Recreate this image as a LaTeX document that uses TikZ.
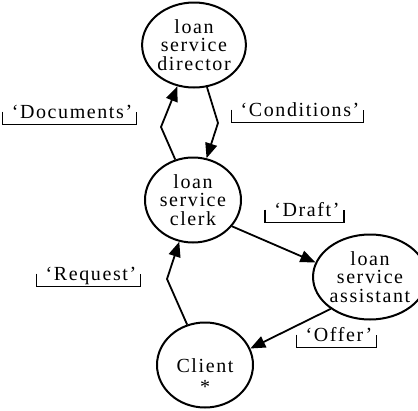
\documentclass[tikz,border=0pt]{standalone}
\usepackage{fontspec}
\setmainfont{Liberation Serif}[LetterSpace=8]
\usetikzlibrary{shapes.geometric}
\usetikzlibrary{arrows.meta}

% underline bracket under a message label
\newcommand{\msgbracket}[1]{%
  \draw[bracket] ([shift={(-9pt,6.5pt)}]#1.base west) -- ([shift={(-9pt,-6.5pt)}]#1.base west)
    -- ([shift={(4pt,-6.5pt)}]#1.base east) -- ([shift={(4pt,6.5pt)}]#1.base east);}

\begin{document}
\begin{tikzpicture}[x=1pt,y=-1pt,
  role/.style={draw,ellipse,line width=2pt,minimum width=96pt,minimum height=85pt,
    inner sep=0pt,align=center,font=\fontsize{20}{18.5}\selectfont},
  roletext/.style={inner sep=0pt,align=center,font=\fontsize{20}{21}\selectfont},
  flow/.style={line width=1.8pt,-{Triangle[length=15pt,width=12pt]}},
  msg/.style={inner sep=0pt,anchor=base,font=\fontsize{20}{18.5}\selectfont},
  bracket/.style={line width=1.8pt}]
\useasboundingbox (0,0) rectangle (418,410);

% roles
\node[role] (director) at (194,45) {loan\\service\\director};
\node[role] (clerk) at (193,200) {loan\\service\\clerk};
\node[role] (assistant) at (370,277) {loan\\service\\assistant};
\node[role] (client) at (205,365) {};
\node[roletext] (clientname) at (205,376) {Client\\*};

% bends
\coordinate (docbend) at (161,127);
\coordinate (condbend) at (218,123);
\coordinate (reqbend) at (167,279);

% flows
\draw[flow] (clerk) -- (docbend) -- (director);
\draw[flow] (director) -- (condbend) -- (clerk);
\draw[flow] (clerk.-34) -- (assistant.165);
\draw[flow] (assistant.-141) -- (client.20);
\draw[flow] (client) -- (reqbend) -- (clerk);

% messages
\node[msg] (documents) at (72,118) {‘Documents’};
\node[msg] (conditions) at (300,116) {‘Conditions’};
\node[msg] (draft) at (307,216) {‘Draft’};
\node[msg] (request) at (91,280) {‘Request’};
\node[msg] (offer) at (339,341) {‘Offer’};
\msgbracket{documents}
\msgbracket{conditions}
\msgbracket{draft}
\msgbracket{request}
\msgbracket{offer}
\end{tikzpicture}
\end{document}
